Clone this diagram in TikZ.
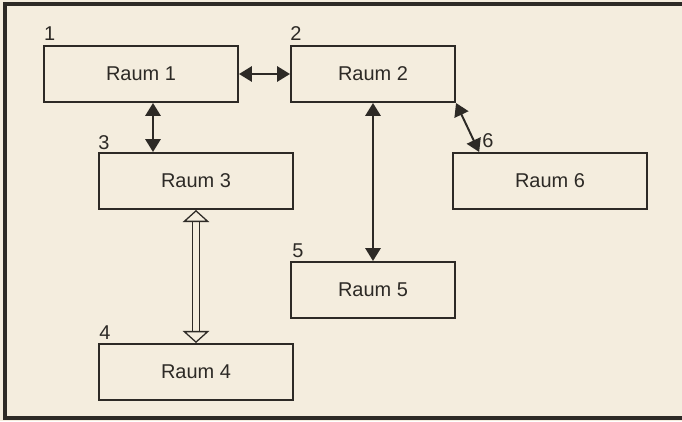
\documentclass[tikz,border=0pt]{standalone}
\usepackage{fontspec}
\setmainfont{Liberation Sans}
\usetikzlibrary{positioning, arrows.meta}
\definecolor{papier}{RGB}{244,237,222}
\definecolor{tinte}{RGB}{45,42,38}
\newcommand{\raumfont}{\fontsize{14.2pt}{17pt}\selectfont}

\begin{document}
\begin{tikzpicture}[x=0.025cm, y=-0.025cm, >={Triangle[length=0.32cm, width=0.38cm]},
    raum/.style={draw=tinte, line width=0.05cm, rectangle, minimum width=4.85cm, minimum height=1.4cm, text=tinte, font=\raumfont},
    schmal/.style={raum, minimum width=4.1cm},
    nr/.style={inner sep=0pt, text=tinte, font=\raumfont},
    verb/.style={<->, draw=tinte, line width=1.4pt},
    hohl/.style={{Triangle[open, length=0.3cm, width=0.66cm]}-{Triangle[open, length=0.3cm, width=0.66cm]}, draw=tinte, double=papier, double distance=0.13cm, line width=0.9pt}]
    % Papier und Rahmen
    \fill[papier] (0,0) rectangle (682,421);
    \useasboundingbox (0,0) rectangle (682,421);
    \draw[tinte, line width=2.2pt] (682,4) -- (5,4) -- (5,418) -- (682,418);

    \node (R1) [raum] at (141,74) {Raum 1};
    \node (R2) [schmal] at (373,74) {Raum 2};
    \node (R3) [raum] at (196,181) {Raum 3};
    \node (R6) [raum] at (550,181) {Raum 6};
    \node (R5) [schmal] at (373,290) {Raum 5};
    \node (R4) [raum] at (196,372) {Raum 4};

    \node (n1) [nr, above right=0.1cm and 0.02cm of R1.north west] {1};
    \node (n2) [nr, above right=0.1cm and 0cm of R2.north west] {2};
    \node (n3) [nr, above right=0.06cm and 0cm of R3.north west] {3};
    \node (n4) [nr, above right=0.08cm and 0.03cm of R4.north west] {4};
    \node (n5) [nr, above right=0.08cm and 0.05cm of R5.north west] {5};
    \node (n6) [nr, above right=0.1cm and 0.75cm of R6.north west] {6};

    \draw[verb] (R1.east) -- (R2.west);
    \draw[verb] ([xshift=0.3cm]R1.south) -- ([xshift=-1.075cm]R3.north);
    \draw[verb] (R2.south) -- (R5.north);
    \draw[verb] (R2.south east) -- ([xshift=0.68cm]R6.north west);
    \draw[hohl] (R3.south) -- (R4.north);
\end{tikzpicture}
\end{document}
